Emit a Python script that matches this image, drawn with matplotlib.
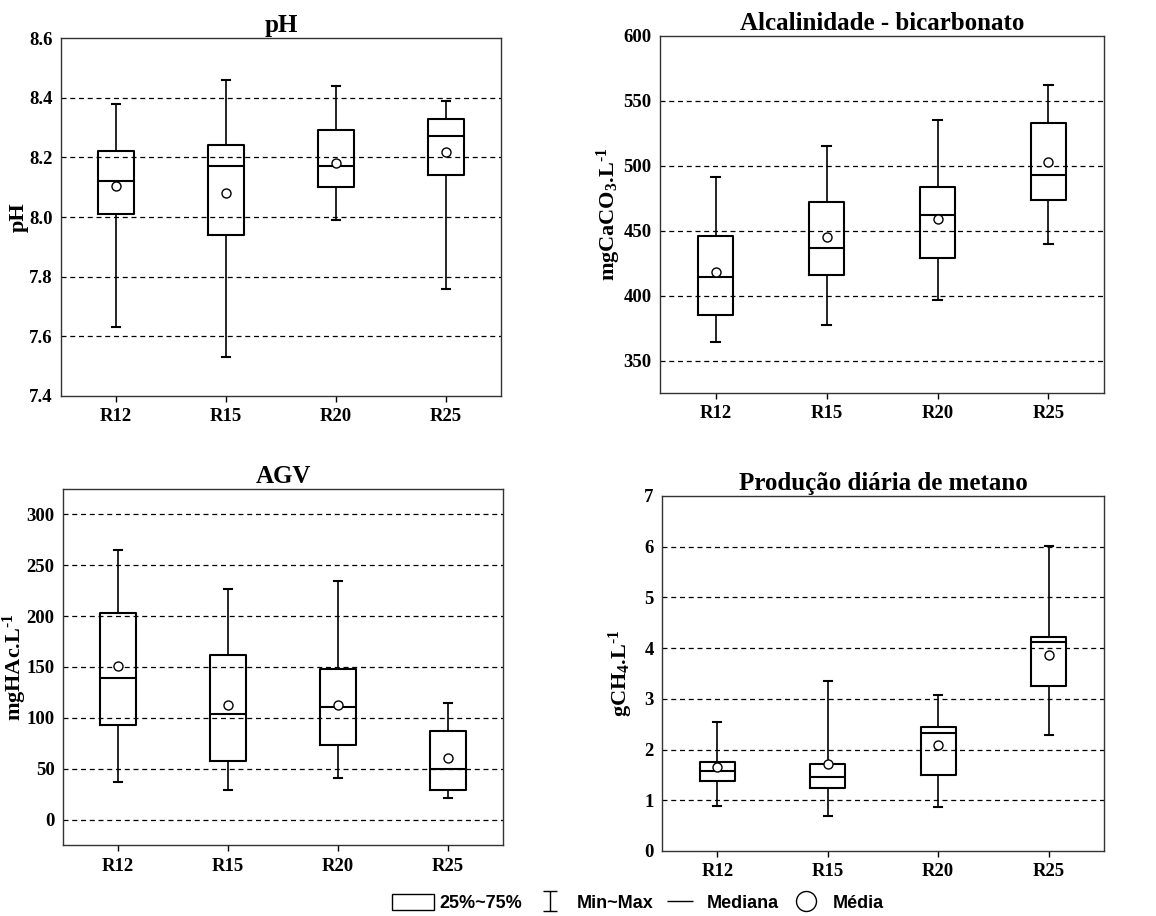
import numpy as np
import matplotlib.pyplot as plt
from matplotlib.path import Path
from matplotlib.lines import Line2D
from matplotlib.patches import Rectangle

plt.rcParams["font.family"] = "Liberation Serif"
plt.rcParams["font.weight"] = "bold"
plt.rcParams["mathtext.fontset"] = "custom"
plt.rcParams["mathtext.rm"] = "Liberation Serif:bold"
plt.rcParams["mathtext.bf"] = "Liberation Serif:bold"
plt.rcParams["mathtext.it"] = "Liberation Serif:bold"
plt.rcParams["mathtext.default"] = "rm"

reactors = ["R12", "R15", "R20", "R25"]

# pH
ph_min = [7.63, 7.53, 7.99, 7.76]
ph_q1 = [8.01, 7.94, 8.10, 8.14]
ph_med = [8.12, 8.17, 8.17, 8.27]
ph_q3 = [8.22, 8.24, 8.29, 8.33]
ph_max = [8.38, 8.46, 8.44, 8.39]
ph_mean = [8.105, 8.082, 8.182, 8.217]

# Alcalinidade - bicarbonato
alc_min = [364, 377, 397, 440]
alc_q1 = [385, 416, 429, 474]
alc_med = [414, 437, 462, 493]
alc_q3 = [446, 472, 484, 533]
alc_max = [491, 515, 535, 562]
alc_mean = [418, 445.5, 459, 503]

# AGV
agv_min = [37, 29, 41, 21]
agv_q1 = [93, 58, 73, 29]
agv_med = [139.5, 103.5, 111, 50]
agv_q3 = [203, 161.5, 148, 87]
agv_max = [265, 227, 235, 115]
agv_mean = [151, 113, 112.5, 61]

# Produção diária de metano
ch4_min = [0.89, 0.68, 0.87, 2.29]
ch4_q1 = [1.37, 1.25, 1.50, 3.25]
ch4_med = [1.58, 1.46, 2.33, 4.12]
ch4_q3 = [1.76, 1.71, 2.44, 4.22]
ch4_max = [2.55, 3.36, 3.08, 6.01]
ch4_mean = [1.66, 1.71, 2.09, 3.86]


def make_stats(lo, q1, med, q3, hi, mean):
    return [dict(whislo=a, q1=b, med=c, q3=d, whishi=e, mean=f, fliers=[])
            for a, b, c, d, e, f in zip(lo, q1, med, q3, hi, mean)]


HY = "\u2010"  # short hyphen for the -1 exponent

panels = [
    ("pH", "pH", make_stats(ph_min, ph_q1, ph_med, ph_q3, ph_max, ph_mean),
     (7.4, 8.6), np.arange(7.4, 8.61, 0.2), "{:.1f}",
     [0.0528, 0.5677, 0.3806, 0.3908], -0.073),
    ("Alcalinidade - bicarbonato", "mgCaCO$_3$.L$^{" + HY + "1}$",
     make_stats(alc_min, alc_q1, alc_med, alc_q3, alc_max, alc_mean),
     (325, 600), np.arange(350, 601, 50), "{:.0f}",
     [0.571, 0.571, 0.384, 0.3897], -0.083),
    ("AGV", "mgHAc.L$^{" + HY + "1}$",
     make_stats(agv_min, agv_q1, agv_med, agv_q3, agv_max, agv_mean),
     (-25, 325), np.arange(0, 301, 50), "{:.0f}",
     [0.0545, 0.0775, 0.3806, 0.3887], -0.078),
    ("Produção diária de metano", "gCH$_4$.L$^{" + HY + "1}$",
     make_stats(ch4_min, ch4_q1, ch4_med, ch4_q3, ch4_max, ch4_mean),
     (0, 7), np.arange(0, 7.1, 1), "{:.0f}",
     [0.5727, 0.071, 0.3823, 0.3876], -0.061),
]

fig = plt.figure(figsize=(11.56, 9.16), dpi=100)

for title, ylabel, stats, ylim, yticks, fmt, rect, labx in panels:
    ax = fig.add_axes(rect)
    pos = np.arange(1, 5)
    ax.bxp(stats, positions=pos, widths=0.32, capwidths=0.075,
           showmeans=True, showfliers=False, patch_artist=False,
           boxprops=dict(color="black", linewidth=1.5),
           medianprops=dict(color="black", linewidth=1.5),
           whiskerprops=dict(color="black", linewidth=1.2),
           capprops=dict(color="black", linewidth=1.5),
           meanprops=dict(marker="o", markerfacecolor="white",
                          markeredgecolor="black", markersize=6.5,
                          markeredgewidth=1.0))
    ax.set_xlim(0.5, 4.5)
    ax.set_ylim(*ylim)
    ax.set_xticks(pos)
    ax.set_xticklabels(reactors)
    ax.set_yticks(yticks)
    ax.set_yticklabels([fmt.format(v) for v in yticks])
    for v in yticks:
        if ylim[0] < v < ylim[1]:
            ax.axhline(v, color="black", linestyle=(0, (4, 3)),
                       linewidth=0.9, zorder=0)
    ax.tick_params(axis="y", length=0, pad=6, labelsize=13.5)
    ax.tick_params(axis="x", length=4, width=1, pad=5, labelsize=13.5)
    for s in ax.spines.values():
        s.set_color("#333333")
        s.set_linewidth(1.0)
    ax.set_title(title, fontsize=18, fontweight="bold", pad=4)
    ax.set_ylabel(ylabel, fontsize=16, fontweight="bold")
    ax.yaxis.set_label_coords(labx, 0.5)

# legend at the bottom
ibeam = Path([(-0.7, 1), (0.7, 1), (0, 1), (0, -1), (-0.7, -1), (0.7, -1)],
             [Path.MOVETO, Path.LINETO, Path.MOVETO, Path.LINETO,
              Path.MOVETO, Path.LINETO])
dash = Path([(-1, 0), (1, 0)], [Path.MOVETO, Path.LINETO])
handles = [
    Rectangle((0, 0), 1, 1, facecolor="white", edgecolor="black", linewidth=1.0),
    Line2D([], [], linestyle="none", marker=ibeam, markersize=14.4,
           markerfacecolor="none", markeredgecolor="black", markeredgewidth=1.0),
    Line2D([], [], linestyle="none", marker=dash, markersize=18.7,
           markeredgecolor="black", markeredgewidth=1.0),
    Line2D([], [], linestyle="none", marker="o", markersize=14.4,
           markerfacecolor="white", markeredgecolor="black", markeredgewidth=1.0),
]
labels = ["25%~75%", "Min~Max", "Mediana", "Média"]
fig.legend(handles, labels, loc="center", bbox_to_anchor=(0.552, 0.0142),
           ncol=4, frameon=False, handlelength=2.33, handleheight=1.05,
           handletextpad=0.3, columnspacing=0.35, borderpad=0.1,
           prop=dict(family="Liberation Sans", weight="bold", size=13))

fig.savefig("out.png", dpi=100)
